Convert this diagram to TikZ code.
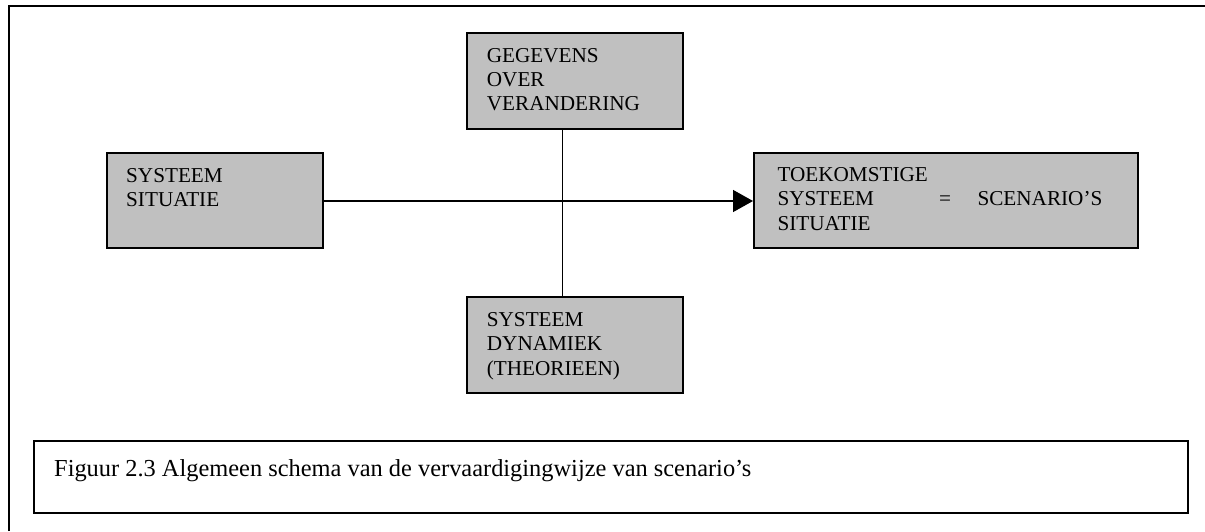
\documentclass[tikz,border=0pt]{standalone}
\usepackage{fontspec}
\setmainfont{Liberation Serif}
\usetikzlibrary{arrows.meta}
\definecolor{boxgray}{HTML}{C0C0C0}
\begin{document}
\begin{tikzpicture}[x=1pt,y=-1pt,
  panel/.style={draw=black, line width=2pt, fill=boxgray, inner sep=0pt, anchor=north west},
  caption/.style={draw=black, line width=2pt, fill=white, inner sep=0pt, anchor=north west},
  % multi-line labels are placed by the baseline of their last line
  label/.style={anchor=base west, inner sep=0pt, align=left,
    font=\fontsize{21.2}{24.2}\selectfont},
  link/.style={line width=1.4pt},
]
\useasboundingbox (0,0) rectangle (1205,531);
\fill[white] (0,0) rectangle (1205,531);

% outer frame (open to the right and bottom)
\draw[line width=2.2pt] (9,531) -- (9,6) -- (1205,6);

% boxes
\node[panel, minimum width=216pt, minimum height=96pt]   (gegevens) at (466,32) {};
\node[panel, minimum width=216pt, minimum height=95.6pt] (situatie) at (106,151.7) {};
\node[panel, minimum width=384pt, minimum height=95.6pt] (toekomst) at (753,151.7) {};
\node[panel, minimum width=216pt, minimum height=95.6pt] (dynamiek) at (466,296.4) {};
\node[caption, minimum width=1154pt, minimum height=72pt] (figbox) at (33,440) {};

% texts
\node[label] (tgeg) at (486.7,110.7) {GEGEVENS\\OVER\\VERANDERING};
\node[label] (tsit) at (126,206.5) {SYSTEEM\\SITUATIE};
\node[label] (ttoe) at (777.3,230.1) {TOEKOMSTIGE\\SYSTEEM\\SITUATIE};
\node[label] (teq)  at (939,205.9) {=};
\node[label] (tsce) at (977.3,205.9) {SCENARIO’S};
\node[label] (tdyn) at (486.7,375.1) {SYSTEEM\\DYNAMIEK\\(THEORIEEN)};
\node[anchor=base west, inner sep=0pt, font=\fontsize{24.4}{28}\selectfont] (tfig) at (54,476)
  {Figuur 2.3 Algemeen schema van de vervaardigingwijze van scenario’s};

% connectors
\coordinate (vx) at (562.7,0);
\coordinate (hy) at (0,201);
\draw[link] (gegevens.south -| vx) -- (dynamiek.north -| vx);
\draw[link, -{Triangle[length=20pt,width=22pt]}] (situatie.east |- hy) -- (toekomst.west |- hy);
\end{tikzpicture}
\end{document}
